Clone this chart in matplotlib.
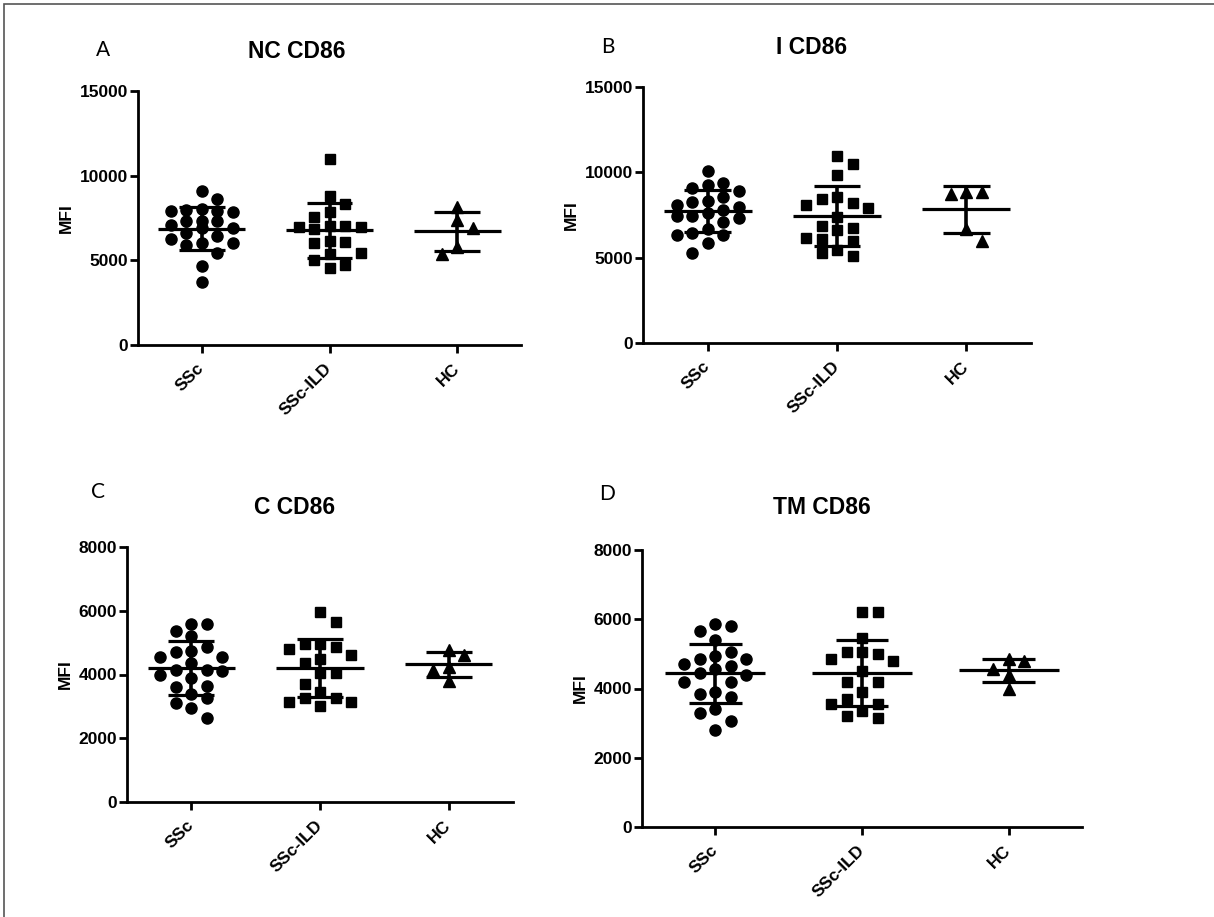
import matplotlib.pyplot as plt
import numpy as np
from matplotlib.patches import Rectangle

plt.rcParams['font.family'] = ['Liberation Sans', 'DejaVu Sans']
plt.rcParams['font.weight'] = 'bold'

groups = ['SSc', 'SSc-ILD', 'HC']

# NC CD86
nc_ssc = [3750, 4650, 5450, 5900, 6000, 6050, 6250, 6450, 6600, 6900, 6900,
          7100, 7300, 7300, 7350, 7850, 7900, 7900, 7950, 8050, 8650, 9100]
nc_ild = [11000, 8800, 8350, 7850, 7550, 6850, 7000, 6950, 7050, 6950, 6100,
          6050, 6150, 5450, 5000, 5400, 4550, 4700]
nc_hc = [7400, 8150, 6900, 5800, 5350]

# I CD86
i_ssc = [10100, 9100, 9250, 9400, 8900, 8550, 8300, 8250, 8100, 7950, 7800,
         7450, 7350, 7450, 7600, 7100, 6700, 6350, 6350, 6450, 5850, 5300]
i_ild = [10950, 10500, 9850, 8550, 8450, 8100, 7900, 8200, 7400, 6750, 6600,
         6850, 6150, 6100, 5950, 5450, 5250, 5100]
i_hc = [8850, 8750, 8850, 6700, 6000]

# C CD86
c_ssc = [5600, 5600, 5350, 5200, 4750, 4700, 4850, 4550, 4550, 4350, 4150,
         4100, 3900, 4000, 4150, 3650, 3600, 3400, 3250, 3100, 2950, 2650]
c_ild = [5950, 5650, 4950, 4850, 4950, 4600, 4800, 4500, 4350, 4050, 4050,
         3700, 3450, 3250, 3150, 3150, 3250, 3000]
c_hc = [4600, 4780, 4250, 4150, 3800]

# TM CD86
tm_ssc = [5800, 5650, 5850, 5400, 4950, 4850, 4850, 5050, 4550, 4700, 4650,
          4400, 4450, 4200, 4200, 3900, 3750, 3850, 3400, 3300, 3050, 2800]
tm_ild = [6200, 6200, 5450, 5050, 4850, 4800, 5000, 5050, 4500, 4200, 4200,
          3900, 3700, 3550, 3550, 3350, 3200, 3150]
tm_hc = [4850, 4800, 4550, 4400, 4000]

W, H = 1214, 917


def fx(x):
    return x / W


def fy(y):
    return 1 - y / H


def swarm(vals, ppu_x, ppu_y, vsep=12.5, step=15.5, kmax=2):
    # column scatter: points go into columns step px apart,
    # a column must keep vsep px between its points
    vals = np.asarray(vals, float)
    offs = np.zeros(len(vals))
    cols = {}
    nleft, nright = 0, 0
    for i in np.argsort(vals)[::-1]:
        y = vals[i] * ppu_y
        chosen = None
        best, bestgap = 0, -1
        for k in range(0, kmax + 1):
            sides = [0] if k == 0 else ([-k, k] if nleft < nright else [k, -k])
            for c in sides:
                gap = min([abs(y - py) for py in cols.get(c, [])] + [1e9])
                if gap >= vsep:
                    chosen = c
                    break
                if gap > bestgap:
                    best, bestgap = c, gap
            if chosen is not None:
                break
        if chosen is None:
            chosen = best
        cols.setdefault(chosen, []).append(y)
        if chosen < 0:
            nleft += 1
        elif chosen > 0:
            nright += 1
        offs[i] = chosen * step / ppu_x
    return offs


# (letter, title, data, ymax, ystep, axes box in px: left, top, right, bottom,
#  letter pos, title pos)
panels = [
    ('A', 'NC CD86', [nc_ssc, nc_ild, nc_hc], 15000, 5000,
     (138, 91, 521, 345), (103, 50), (297, 52)),
    ('B', 'I CD86', [i_ssc, i_ild, i_hc], 15000, 5000,
     (643, 87, 1031, 343), (608, 47), (812, 48)),
    ('C', 'C CD86', [c_ssc, c_ild, c_hc], 8000, 2000,
     (127, 547, 513, 802), (98, 492), (295, 507)),
    ('D', 'TM CD86', [tm_ssc, tm_ild, tm_hc], 8000, 2000,
     (642, 550, 1082, 827), (607, 494), (822, 508)),
]
markers = ['o', 's', '^']
msizes = [8.0, 7.2, 8.0]

fig = plt.figure(figsize=(W / 100, H / 100), dpi=100)

for letter, title, data, ymax, ystep, box, lpos, tpos in panels:
    l, t, r, b = box
    ax = fig.add_axes([fx(l), fy(b), (r - l) / W, (b - t) / H])
    ppu_x = (r - l) / 3.0
    ppu_y = (b - t) / ymax
    for i, vals in enumerate(data):
        offs = swarm(vals, ppu_x, ppu_y)
        ax.plot(i + offs, vals, ls='none', marker=markers[i], ms=msizes[i],
                color='black', mec='black', clip_on=False, zorder=3)
        m = np.mean(vals)
        sd = np.std(vals, ddof=1)
        ax.hlines(m, i - 0.34, i + 0.34, color='black', lw=2.3, zorder=4)
        ax.vlines(i, m - sd, m + sd, color='black', lw=2.6, zorder=4)
        ax.hlines([m - sd, m + sd], i - 0.18, i + 0.18, color='black', lw=2.3, zorder=4)
    ax.set_xlim(-0.5, 2.5)
    ax.set_ylim(0, ymax)
    ax.set_yticks(np.arange(0, ymax + 1, ystep))
    ax.set_xticks([0, 1, 2])
    ax.set_xticklabels(groups, rotation=45, ha='right', va='center',
                       rotation_mode='anchor', fontsize=12.5, fontweight='bold')
    for lab in ax.get_yticklabels():
        lab.set_fontsize(12.5)
        lab.set_fontweight('bold')
    ax.tick_params(axis='y', length=6, width=2, pad=1)
    ax.tick_params(axis='x', length=6, width=2, pad=9)
    for s in ['top', 'right']:
        ax.spines[s].set_visible(False)
    for s in ['left', 'bottom']:
        ax.spines[s].set_linewidth(2)
    ax.set_ylabel('MFI', fontsize=12.5, fontweight='bold', labelpad=4)
    fig.text(fx(lpos[0]), fy(lpos[1]), letter, fontsize=15, fontweight='normal',
             family=['Lato', 'DejaVu Sans'], ha='center', va='center')
    fig.text(fx(tpos[0]), fy(tpos[1]), title, fontsize=16.5, fontweight='bold',
             ha='center', va='center')

# thin frame around the figure (top and left visible)
fig.patches.append(Rectangle((fx(4), -0.05), 1.2, fy(4) + 0.05, transform=fig.transFigure,
                             fill=False, edgecolor='#555555', lw=1.2, figure=fig))

fig.savefig('out.png', dpi=100)
